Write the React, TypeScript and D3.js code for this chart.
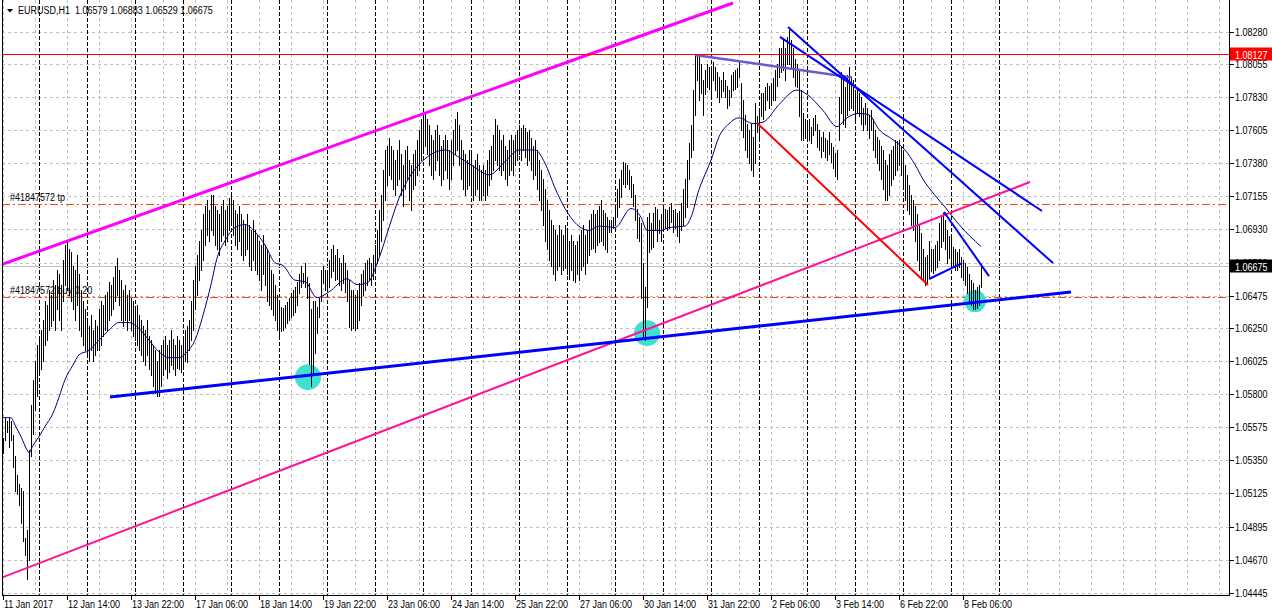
import React, { useEffect } from 'react';
import * as d3 from 'd3';

// ---------- DATA ----------
const highs = [
  1.0550,1.0564,1.0562,1.0564,1.0562,1.0552,1.0538,1.0525,1.0519,1.0516,
  1.0514,1.0482,1.0487,1.0542,1.0573,1.0590,1.0603,1.0614,1.0617,1.0624,
  1.0631,1.0644,1.0641,1.0651,1.0648,1.0658,1.0655,1.0665,1.0662,1.0655,
  1.0672,1.0682,1.0684,1.0679,1.0677,1.0668,1.0665,1.0675,1.0662,1.0651,
  1.0644,1.0638,1.0631,1.0627,1.0634,1.0624,1.0631,1.0627,1.0638,1.0644,
  1.0641,1.0648,1.0650,1.0657,1.0655,1.0660,1.0668,1.0673,1.0665,1.0658,
  1.0651,1.0655,1.0648,1.0651,1.0646,1.0644,1.0638,1.0641,1.0634,1.0631,
  1.0627,1.0624,1.0631,1.0620,1.0617,1.0614,1.0610,1.0603,1.0610,1.0614,
  1.0617,1.0620,1.0614,1.0617,1.0624,1.0618,1.0614,1.0620,1.0617,1.0614,
  1.0620,1.0624,1.0627,1.0631,1.0644,1.0658,1.0668,1.0675,1.0685,1.0692,
  1.0703,1.0709,1.0713,1.0706,1.0716,1.0716,1.0709,1.0706,1.0703,1.0709,
  1.0713,1.0706,1.0709,1.0714,1.0716,1.0713,1.0706,1.0703,1.0709,1.0703,
  1.0699,1.0696,1.0703,1.0696,1.0692,1.0699,1.0692,1.0689,1.0685,1.0682,
  1.0689,1.0682,1.0679,1.0675,1.0665,1.0662,1.0655,1.0648,1.0644,1.0640,
  1.0639,1.0641,1.0643,1.0646,1.0649,1.0651,1.0653,1.0657,1.0662,1.0668,
  1.0663,1.0670,1.0660,1.0656,1.0638,1.0644,1.0644,1.0640,1.0646,1.0665,
  1.0668,1.0665,1.0665,1.0672,1.0679,1.0682,1.0675,1.0679,1.0673,1.0670,
  1.0675,1.0670,1.0665,1.0658,1.0651,1.0651,1.0648,1.0651,1.0656,1.0662,
  1.0665,1.0670,1.0672,1.0673,1.0670,1.0675,1.0682,1.0692,1.0706,1.0716,
  1.0733,1.0747,1.0750,1.0755,1.0750,1.0747,1.0740,1.0747,1.0754,1.0744,
  1.0737,1.0747,1.0750,1.0740,1.0737,1.0744,1.0747,1.0754,1.0761,1.0768,
  1.0771,1.0773,1.0768,1.0764,1.0757,1.0754,1.0761,1.0764,1.0757,1.0750,
  1.0754,1.0757,1.0754,1.0747,1.0754,1.0761,1.0768,1.0773,1.0764,1.0754,
  1.0747,1.0744,1.0740,1.0747,1.0744,1.0737,1.0740,1.0744,1.0737,1.0733,
  1.0737,1.0733,1.0740,1.0747,1.0750,1.0757,1.0768,1.0764,1.0761,1.0754,
  1.0757,1.0750,1.0747,1.0754,1.0757,1.0754,1.0757,1.0761,1.0764,1.0762,
  1.0764,1.0762,1.0759,1.0761,1.0755,1.0750,1.0754,1.0747,1.0740,1.0733,
  1.0727,1.0720,1.0713,1.0706,1.0699,1.0696,1.0692,1.0689,1.0696,1.0692,
  1.0689,1.0696,1.0692,1.0685,1.0689,1.0685,1.0682,1.0685,1.0689,1.0692,
  1.0696,1.0689,1.0692,1.0699,1.0703,1.0706,1.0703,1.0706,1.0709,1.0713,
  1.0706,1.0704,1.0701,1.0699,1.0699,1.0701,1.0709,1.0720,1.0727,1.0733,
  1.0739,1.0738,1.0737,1.0733,1.0729,1.0724,1.0716,1.0707,1.0701,1.0697,
  1.0670,1.0653,1.0701,1.0704,1.0697,1.0704,1.0708,1.0707,1.0699,1.0703,
  1.0708,1.0707,1.0706,1.0708,1.0711,1.0706,1.0707,1.0704,1.0705,1.0711,
  1.0720,1.0727,1.0740,1.0752,1.0764,1.0788,1.0811,1.0812,1.0812,1.0806,
  1.0795,1.0802,1.0806,1.0804,1.0802,1.0807,1.0804,1.0800,1.0797,1.0795,
  1.0800,1.0795,1.0791,1.0788,1.0798,1.0800,1.0802,1.0803,1.0807,1.0793,
  1.0781,1.0771,1.0765,1.0761,1.0765,1.0756,1.0779,1.0770,1.0776,1.0786,
  1.0786,1.0790,1.0793,1.0791,1.0793,1.0796,1.0802,1.0806,1.0817,1.0817,
  1.0822,1.0817,1.0824,1.0829,1.0822,1.0817,1.0809,1.0806,1.0802,1.0788,
  1.0772,1.0768,1.0765,1.0768,1.0763,1.0769,1.0771,1.0765,1.0761,1.0756,
  1.0759,1.0755,1.0754,1.0759,1.0752,1.0749,1.0745,1.0747,1.0783,1.0800,
  1.0795,1.0790,1.0798,1.0804,1.0797,1.0795,1.0788,1.0790,1.0786,1.0783,
  1.0776,1.0779,1.0776,1.0771,1.0774,1.0768,1.0761,1.0756,1.0754,1.0750,
  1.0747,1.0740,1.0737,1.0744,1.0747,1.0750,1.0754,1.0753,1.0754,1.0750,
  1.0744,1.0737,1.0730,1.0723,1.0716,1.0713,1.0709,1.0703,1.0696,1.0690,
  1.0679,1.0674,1.0675,1.0685,1.0679,1.0679,1.0682,1.0685,1.0697,1.0701,
  1.0704,1.0699,1.0692,1.0688,1.0688,1.0681,1.0679,1.0677,1.0679,1.0674,
  1.0672,1.0670,1.0667,1.0662,1.0658,1.0656,1.0651,1.0653,1.0655,1.0668,
];

const lows = [
  1.0540,1.0549,1.0554,1.0544,1.0549,1.0530,1.0514,1.0512,1.0504,1.0492,
  1.0480,1.0470,1.0454,1.0467,1.0538,1.0553,1.0569,1.0579,1.0593,1.0597,
  1.0603,1.0614,1.0617,1.0624,1.0627,1.0631,1.0624,1.0638,1.0631,1.0624,
  1.0644,1.0655,1.0651,1.0648,1.0644,1.0638,1.0631,1.0641,1.0624,1.0620,
  1.0614,1.0610,1.0607,1.0603,1.0610,1.0603,1.0607,1.0610,1.0610,1.0614,
  1.0620,1.0624,1.0624,1.0631,1.0634,1.0638,1.0644,1.0648,1.0641,1.0631,
  1.0627,1.0631,1.0624,1.0631,1.0624,1.0620,1.0617,1.0614,1.0610,1.0607,
  1.0603,1.0600,1.0607,1.0597,1.0593,1.0586,1.0581,1.0579,1.0579,1.0586,
  1.0593,1.0597,1.0591,1.0595,1.0600,1.0597,1.0593,1.0598,1.0597,1.0595,
  1.0600,1.0603,1.0602,1.0610,1.0617,1.0624,1.0638,1.0648,1.0658,1.0665,
  1.0672,1.0682,1.0689,1.0685,1.0692,1.0689,1.0682,1.0679,1.0675,1.0685,
  1.0689,1.0682,1.0685,1.0692,1.0696,1.0689,1.0682,1.0679,1.0685,1.0675,
  1.0672,1.0675,1.0679,1.0668,1.0665,1.0672,1.0665,1.0662,1.0658,1.0651,
  1.0662,1.0655,1.0644,1.0641,1.0638,1.0634,1.0631,1.0624,1.0620,1.0623,
  1.0624,1.0626,1.0629,1.0631,1.0633,1.0634,1.0636,1.0641,1.0649,1.0653,
  1.0656,1.0653,1.0646,1.0601,1.0586,1.0593,1.0608,1.0622,1.0633,1.0644,
  1.0656,1.0651,1.0653,1.0653,1.0660,1.0664,1.0658,1.0659,1.0655,1.0651,
  1.0656,1.0650,1.0644,1.0626,1.0624,1.0625,1.0624,1.0625,1.0631,1.0641,
  1.0648,1.0651,1.0655,1.0658,1.0655,1.0659,1.0665,1.0670,1.0675,1.0685,
  1.0699,1.0713,1.0723,1.0730,1.0727,1.0720,1.0716,1.0723,1.0727,1.0716,
  1.0709,1.0720,1.0727,1.0713,1.0706,1.0720,1.0723,1.0730,1.0733,1.0740,
  1.0747,1.0750,1.0744,1.0737,1.0730,1.0727,1.0733,1.0740,1.0730,1.0723,
  1.0727,1.0733,1.0728,1.0720,1.0727,1.0737,1.0744,1.0747,1.0737,1.0727,
  1.0720,1.0716,1.0720,1.0723,1.0716,1.0713,1.0716,1.0720,1.0713,1.0713,
  1.0716,1.0713,1.0716,1.0723,1.0727,1.0733,1.0740,1.0737,1.0733,1.0730,
  1.0733,1.0727,1.0723,1.0730,1.0733,1.0730,1.0737,1.0740,1.0744,1.0740,
  1.0747,1.0742,1.0737,1.0740,1.0733,1.0727,1.0730,1.0720,1.0713,1.0706,
  1.0696,1.0685,1.0679,1.0672,1.0668,1.0662,1.0658,1.0665,1.0668,1.0662,
  1.0665,1.0666,1.0662,1.0659,1.0665,1.0658,1.0657,1.0662,1.0658,1.0665,
  1.0668,1.0662,1.0670,1.0675,1.0679,1.0680,1.0677,1.0682,1.0684,1.0685,
  1.0682,1.0679,1.0677,1.0691,1.0691,1.0694,1.0696,1.0701,1.0708,1.0715,
  1.0724,1.0722,1.0724,1.0720,1.0715,1.0709,1.0699,1.0687,1.0685,1.0646,
  1.0619,1.0617,1.0640,1.0677,1.0679,1.0681,1.0692,1.0685,1.0690,1.0685,
  1.0694,1.0694,1.0692,1.0694,1.0698,1.0691,1.0694,1.0688,1.0684,1.0692,
  1.0696,1.0701,1.0708,1.0727,1.0742,1.0747,1.0771,1.0795,1.0781,1.0786,
  1.0771,1.0785,1.0790,1.0789,1.0783,1.0795,1.0788,1.0783,1.0780,1.0783,
  1.0787,1.0783,1.0776,1.0778,1.0783,1.0788,1.0789,1.0790,1.0797,1.0761,
  1.0756,1.0747,1.0742,1.0738,1.0733,1.0729,1.0738,1.0759,1.0756,1.0770,
  1.0768,1.0774,1.0781,1.0776,1.0778,1.0781,1.0781,1.0791,1.0797,1.0800,
  1.0802,1.0795,1.0806,1.0806,1.0804,1.0797,1.0791,1.0790,1.0770,1.0754,
  1.0754,1.0755,1.0756,1.0754,1.0752,1.0757,1.0761,1.0749,1.0747,1.0742,
  1.0746,1.0742,1.0740,1.0744,1.0739,1.0735,1.0729,1.0727,1.0754,1.0772,
  1.0765,1.0763,1.0771,1.0774,1.0776,1.0774,1.0768,1.0772,1.0770,1.0765,
  1.0761,1.0765,1.0761,1.0755,1.0761,1.0747,1.0742,1.0738,1.0733,1.0727,
  1.0720,1.0713,1.0713,1.0716,1.0723,1.0727,1.0730,1.0733,1.0737,1.0730,
  1.0720,1.0713,1.0706,1.0703,1.0696,1.0692,1.0685,1.0672,1.0665,1.0659,
  1.0658,1.0655,1.0656,1.0660,1.0664,1.0663,1.0665,1.0667,1.0672,1.0681,
  1.0685,1.0679,1.0670,1.0673,1.0667,1.0667,1.0665,1.0665,1.0667,1.0660,
  1.0658,1.0655,1.0649,1.0644,1.0641,1.0638,1.0638,1.0639,1.0641,1.0653,
];

// moving average, read at a number of bars
const maBars = [0,4,6,9,12,13,15,18,21,25,28,31,35,38,43,48,53,58,63,68,73,78,83,88,92,96,100,104,107,111,116,121,126,131,136,140,146,151,157,163,172,177,182,188,193,198,203,208,214,221,228,236,243,251,258,266,271,276,281,287,293,298,306,314,319,322,329,333,341,344,348,350,354,358,363,368,375,380,388,397,402,410,417,422,428,433,438,445,451,456,460,466,471,478,489];
const maValues = [1.0564,1.0564,1.0559,1.0551,1.0542,1.0540,1.0545,1.0551,1.0558,1.0567,1.0578,1.0590,1.0600,1.0607,1.0610,1.0617,1.0624,1.0629,1.0629,1.0625,1.0617,1.0609,1.0605,1.0605,1.0609,1.0617,1.0634,1.0655,1.0673,1.0685,1.0694,1.0696,1.0691,1.0682,1.0670,1.0668,1.0658,1.0657,1.0646,1.0650,1.0659,1.0655,1.0656,1.0673,1.0694,1.0714,1.0728,1.0737,1.0744,1.0747,1.0742,1.0735,1.0730,1.0739,1.0747,1.0747,1.0738,1.0721,1.0707,1.0696,1.0692,1.0695,1.0694,1.0707,1.0701,1.0692,1.0692,1.0694,1.0695,1.0701,1.0720,1.0727,1.0740,1.0756,1.0765,1.0769,1.0765,1.0766,1.0778,1.0788,1.0785,1.0774,1.0763,1.0769,1.0772,1.0771,1.0761,1.0754,1.0747,1.0737,1.0727,1.0716,1.0708,1.0696,1.0681];

// drawn objects: [bar, price] start and end
const trendStartBars = [-1.5, -1.5, 53.5, 377, 346, 388.5, 392.5, 470.5, 463];
const trendStartPrices = [1.06683, 1.04542, 1.05781, 1.07655, 1.08120, 1.08243, 1.08311, 1.07046, 1.06588];
const trendEndBars = [365, 513.5, 534, 462.5, 424.5, 519.5, 525, 493, 479.5];
const trendEndPrices = [1.08475, 1.07251, 1.06499, 1.06547, 1.07966, 1.07053, 1.06697, 1.06608, 1.06697];

const circleBars = [152.5, 322, 486];
const circlePrices = [1.05917, 1.06218, 1.06437];

const resistanceLevel = 1.08127;
const bidPrice = 1.06675;
const tpLevel = 1.07099;
const openLevel = 1.06462;

const priceTickLabels = ['1.08280','1.08055','1.07830','1.07605','1.07380','1.07155','1.06930','1.06700','1.06475','1.06250','1.06025','1.05800','1.05575','1.05350','1.05125','1.04895','1.04670','1.04445'];
const dateTickLabels = ['11 Jan 2017','12 Jan 14:00','13 Jan 22:00','17 Jan 06:00','18 Jan 14:00','19 Jan 22:00','23 Jan 06:00','24 Jan 14:00','25 Jan 22:00','27 Jan 06:00','30 Jan 14:00','31 Jan 22:00','2 Feb 06:00','3 Feb 14:00','6 Feb 22:00','8 Feb 06:00'];
const titleText = 'EURUSD,H1  1.06579 1.06883 1.06529 1.06675';
const tpText = '#41847572 tp';
const openText = '#41847572 buy 0.20';

// ---------- STYLES ----------
const W = 1272, H = 616;
const L = 2, R = 1229, T = 0, B = 595;
const FONT = "'Liberation Sans',Arial,sans-serif";
const SX = 0.82; // horizontal squeeze to mimic a narrow UI font
const trendStyles = [
  { color: '#ff00ff', w: 3 },
  { color: '#ff1493', w: 2 },
  { color: '#0000ff', w: 3 },
  { color: '#ff0000', w: 2 },
  { color: '#6a5acd', w: 2.5 },
  { color: '#0000ff', w: 2 },
  { color: '#0000ff', w: 2 },
  { color: '#0000ff', w: 2 },
  { color: '#0000ff', w: 2 },
];
const circleRadii = [13, 13, 11];

function T11({ x, y, fill = '#000', children }: { x: number; y: number; fill?: string; children: React.ReactNode }) {
  return (
    <text transform={`translate(${x},${y}) scale(${SX},1)`} fill={fill}
      style={{ fontFamily: FONT, fontSize: 11, whiteSpace: 'pre' }}>{children}</text>
  );
}

export default function App() {
  useEffect(() => { document.body.style.margin = '0'; }, []);

  const x = d3.scaleLinear().domain([0, 1]).range([3, 5]); // 2 px per bar
  const y = d3.scaleLinear().domain([1.04445, 1.0828]).range([592.5, 31.5]);
  const cy = (p: number) => Math.round(y(p)) + 0.5;

  let barsPath = '';
  highs.forEach((h, i) => {
    const xx = x(i) + 0.5;
    const y1 = Math.round(y(h));
    const y2 = Math.round(y(lows[i])) + 1;
    barsPath += `M${xx},${y1}V${y2}`;
  });

  const maLine = d3.line<number>()
    .x((_, i) => x(maBars[i]))
    .y((v) => y(v))
    .curve(d3.curveMonotoneX)(maValues) || '';

  const grayV: number[] = [];
  for (let i = 0; x(i) < R; i += 16) grayV.push(i);
  const sepV: number[] = [];
  for (let i = 18; x(i) <= 1000; i += 24) sepV.push(i);

  return (
    <svg width={W} height={H} style={{ position: 'absolute', left: 0, top: 0, background: '#fff' }}>
      <defs>
        <clipPath id="plotClip"><rect x={L} y={T} width={R - L} height={B - T} /></clipPath>
      </defs>
      <rect x={0} y={0} width={W} height={H} fill="#fff" />
      <g clipPath="url(#plotClip)" shapeRendering="crispEdges">
        {priceTickLabels.map((t) => (
          <line key={'h' + t} x1={L} x2={R} y1={cy(+t)} y2={cy(+t)} stroke="#c0c0c0" strokeDasharray="3,3" />
        ))}
        {grayV.map((i) => (
          <line key={'gv' + i} x1={x(i) + 0.5} x2={x(i) + 0.5} y1={T} y2={B} stroke="#c0c0c0" strokeDasharray="3,3" />
        ))}
        {sepV.map((i) => (
          <line key={'sv' + i} x1={x(i) + 0.5} x2={x(i) + 0.5} y1={T} y2={B} stroke="#000" strokeDasharray="4,2" />
        ))}
        <line x1={L} x2={R} y1={cy(bidPrice)} y2={cy(bidPrice)} stroke="#c0c0c0" />
        <line x1={L} x2={R} y1={cy(tpLevel)} y2={cy(tpLevel)} stroke="#ff4500" strokeDasharray="8,3,2,3" />
        <line x1={L} x2={R} y1={cy(openLevel)} y2={cy(openLevel)} stroke="#ff4500" strokeDasharray="8,3,2,3" />
      </g>
      <g clipPath="url(#plotClip)">
        {circleBars.map((b, i) => (
          <circle key={'c' + i} cx={x(b)} cy={y(circlePrices[i])} r={circleRadii[i]} fill="#40e0d0" />
        ))}
        <path d={barsPath} stroke="#000" strokeWidth={1} shapeRendering="crispEdges" fill="none" />
        <path d={maLine} stroke="#000080" strokeWidth={1} fill="none" />
        {trendStartBars.map((b, i) => (
          <line key={'t' + i} x1={x(b)} y1={y(trendStartPrices[i])} x2={x(trendEndBars[i])} y2={y(trendEndPrices[i])}
            stroke={trendStyles[i].color} strokeWidth={trendStyles[i].w} />
        ))}
        <line x1={L} x2={R} y1={cy(resistanceLevel)} y2={cy(resistanceLevel)} stroke="#ff0000" shapeRendering="crispEdges" />
      </g>
      <path d="M7,9 L13,9 L10,12.5 Z" fill="#000" />
      <T11 x={18} y={14}>{titleText}</T11>
      <T11 x={10} y={y(tpLevel) - 3}>{tpText}</T11>
      <T11 x={10} y={y(openLevel) - 3}>{openText}</T11>

      <g shapeRendering="crispEdges">
        <line x1={L + 0.5} x2={L + 0.5} y1={T} y2={B} stroke="#000" />
        <line x1={R + 0.5} x2={R + 0.5} y1={T} y2={B + 1} stroke="#000" />
        <line x1={L} x2={R + 1} y1={B + 0.5} y2={B + 0.5} stroke="#000" />
        {priceTickLabels.map((t) => (
          <line key={'pt' + t} x1={R} x2={R + 5} y1={cy(+t)} y2={cy(+t)} stroke="#000" />
        ))}
        {dateTickLabels.map((d, k) => (
          <line key={'dt' + k} x1={x(32 * k) + 0.5} x2={x(32 * k) + 0.5} y1={B} y2={B + 5} stroke="#000" />
        ))}
      </g>
      {priceTickLabels.map((t) => (
        <T11 key={'pl' + t} x={R + 6} y={y(+t) + 4}>{t}</T11>
      ))}
      {dateTickLabels.map((d, k) => (
        <T11 key={'dl' + k} x={x(32 * k) + 1} y={608}>{d}</T11>
      ))}
      <rect x={R + 1} y={cy(resistanceLevel) - 7} width={W - R - 1} height={13} fill="#ff0000" />
      <T11 x={R + 6} y={cy(resistanceLevel) + 4} fill="#fff">{resistanceLevel.toFixed(5)}</T11>
      <rect x={R + 1} y={cy(bidPrice) - 7} width={W - R - 1} height={13} fill="#000" />
      <T11 x={R + 6} y={cy(bidPrice) + 4} fill="#fff">{bidPrice.toFixed(5)}</T11>
    </svg>
  );
}
